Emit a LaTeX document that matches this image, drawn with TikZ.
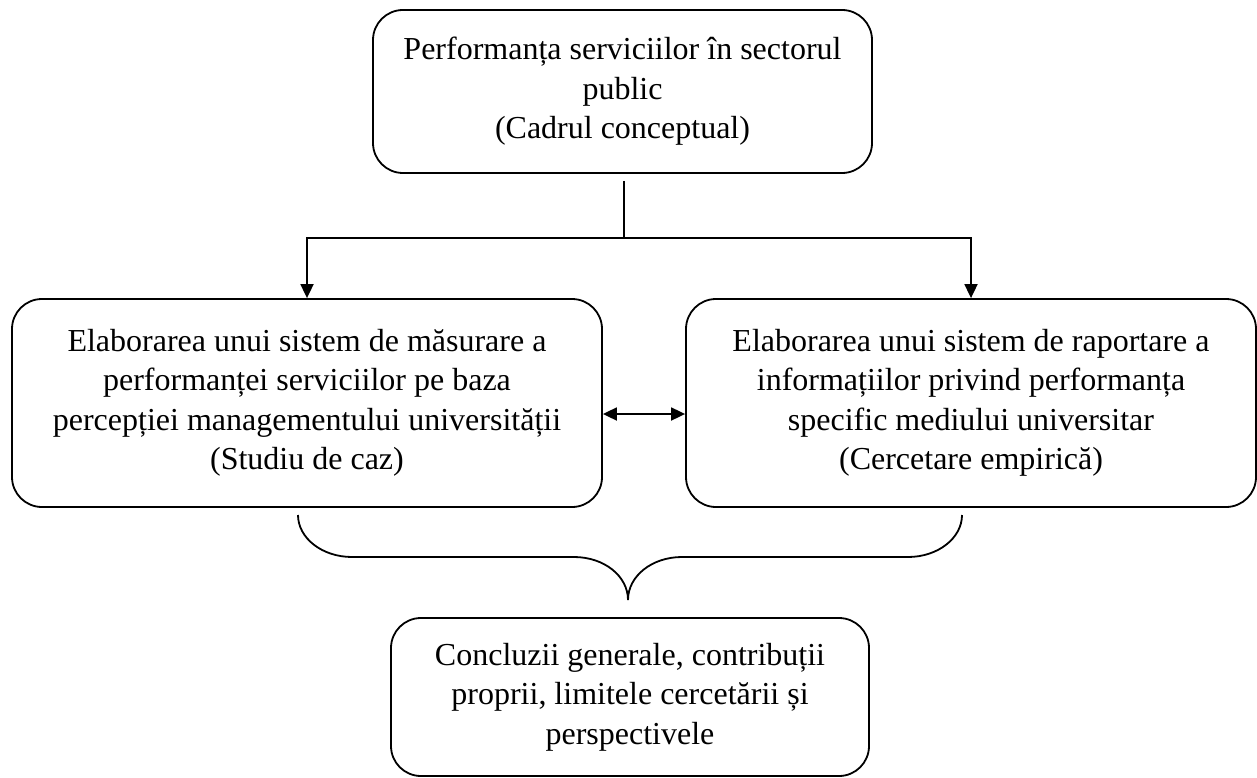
\documentclass[tikz,border=0pt]{standalone}
\usepackage{fontspec}
\setmainfont{Liberation Serif}
\usetikzlibrary{arrows.meta}
\begin{document}
\begin{tikzpicture}[x=1pt,y=-1pt,
  box/.style={draw, line width=1.8pt, rounded corners=30pt, align=center,
    inner sep=0pt, font=\fontsize{32}{39.5}\selectfont},
  conn/.style={line width=1.8pt},
  tip/.style={-{Triangle[length=14pt,width=13pt]}},
  dtip/.style={{Triangle[length=14pt,width=13pt]}-{Triangle[length=14pt,width=13pt]}}]
\useasboundingbox (0,0) rectangle (1257,778);
\node[box, minimum width=499pt, minimum height=163pt] (top) at (622.5,91.5)
  {Performanța serviciilor în sectorul\\ public\\ (Cadrul conceptual)};
\node[box, minimum width=590pt, minimum height=208pt] (left) at (307,403)
  {Elaborarea unui sistem de măsurare a\\ performanței serviciilor pe baza\\ percepției managementului universității\\ (Studiu de caz)};
\node[box, minimum width=570pt, minimum height=208pt] (right) at (971,403)
  {Elaborarea unui sistem de raportare a\\ informațiilor privind performanța\\ specific mediului universitar\\ (Cercetare empirică)};
\node[box, minimum width=478pt, minimum height=158pt] (bottom) at (630,697)
  {Concluzii generale, contribuții\\ proprii, limitele cercetării și\\ perspectivele};
\coordinate (j) at (624,238);
\coordinate (s) at (624,181);
\draw[conn] (s) -- (j);
\draw[conn,tip] (j) -| (left.north);
\draw[conn,tip] (j) -| (right.north);
\draw[conn,dtip] ([yshift=-11pt]left.east) -- ([yshift=-11pt]right.west);
\draw[conn] (298,515) .. controls (298,538) and (322,557) .. (352,557) -- (574,557)
  .. controls (604,557) and (628,576) .. (628,600)
  .. controls (628,576) and (652,557) .. (682,557) -- (908,557)
  .. controls (938,557) and (962,538) .. (962,515);
\end{tikzpicture}
\end{document}
